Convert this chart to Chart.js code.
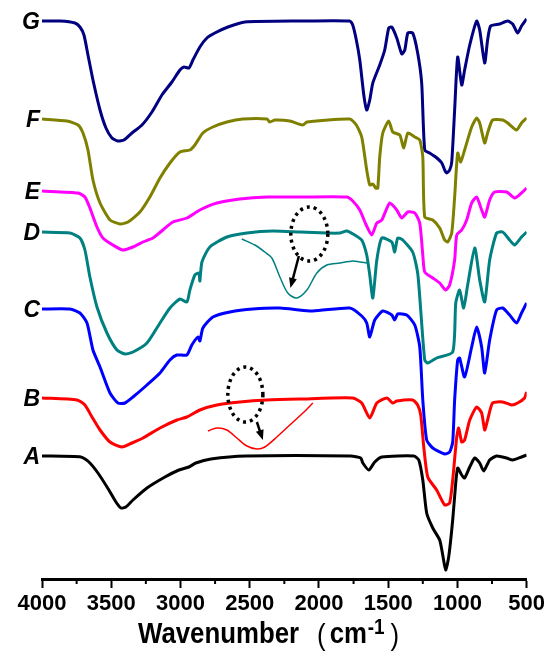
<!DOCTYPE html>
<html>
<head>
<meta charset="utf-8">
<script src="https://cdn.jsdelivr.net/npm/chart.js@4.4.0/dist/chart.umd.min.js"></script>
<style>
  body { margin: 0; background: #fff; }
  #wrap { width: 548px; height: 656px; }
</style>
</head>
<body>
<div id="wrap"><canvas id="ftir"></canvas></div>
<script>
// FTIR spectra, points are [wavenumber (cm-1), transmittance (a.u., stacked)]
const specA = [[4000,123],[3719,122],[3661,117],[3596,106],[3517,89],[3466,77],[3430,71],[3394,72],[3343,79],[3242,91],[3112,102],[3011,109],[2939,112],[2889,116],[2780,120],[2528,123],[1770,123],[1698,121],[1683,116],[1640,109],[1597,117],[1546,122],[1315,123],[1279,119],[1250,99],[1222,66],[1178,51],[1128,39],[1106,24],[1085,9],[1063,22],[1034,59],[1012,96],[998,111],[969,104],[948,101],[911,112],[875,121],[839,116],[810,108],[767,119],[717,123],[644,121],[601,119],[537,122],[500,124]];
const specB = [[4000,181],[3747,179],[3690,174],[3639,162],[3581,149],[3509,137],[3423,132],[3350,136],[3271,141],[3148,151],[3026,159],[2954,162],[2860,169],[2737,174],[2571,177],[2376,179],[2138,180],[1756,181],[1691,176],[1633,161],[1582,176],[1510,181],[1467,176],[1438,178],[1323,179],[1287,174],[1265,164],[1243,132],[1214,102],[1150,89],[1092,74],[1056,76],[1034,99],[1005,142],[991,151],[969,137],[948,139],[911,159],[861,172],[825,166],[803,149],[782,159],[746,176],[673,177],[608,174],[565,176],[515,181],[500,187]];
const specC = [[4000,270],[3798,270],[3726,266],[3675,256],[3632,229],[3581,212],[3509,186],[3452,176],[3401,176],[3343,182],[3242,194],[3148,206],[3076,219],[3026,224],[2954,224],[2918,234],[2874,242],[2860,238],[2838,251],[2766,262],[2643,267],[2477,270],[2282,271],[2044,268],[1777,271],[1691,263],[1655,256],[1633,242],[1597,259],[1539,268],[1474,264],[1453,259],[1431,265],[1366,264],[1308,254],[1272,232],[1250,179],[1222,139],[1178,131],[1092,125],[1056,127],[1034,137],[1020,179],[998,219],[984,221],[948,202],[897,232],[861,252],[825,232],[803,206],[767,239],[717,269],[673,271],[623,264],[573,256],[537,266],[500,276]];
const specD = [[4000,347],[3798,346],[3726,341],[3690,329],[3654,302],[3603,272],[3531,246],[3459,229],[3401,225],[3343,227],[3242,236],[3148,256],[3076,271],[3004,280],[2954,277],[2932,289],[2896,304],[2867,306],[2860,298],[2845,317],[2788,332],[2665,342],[2520,346],[2333,348],[2138,347],[1943,346],[1849,346],[1799,348],[1741,344],[1691,339],[1655,324],[1633,304],[1611,281],[1582,319],[1546,341],[1474,337],[1453,327],[1431,341],[1395,339],[1323,327],[1287,306],[1265,269],[1236,219],[1214,216],[1150,221],[1034,227],[1012,276],[984,289],[955,271],[926,294],[875,331],[839,299],[803,277],[767,319],[717,346],[673,347],[623,339],[587,334],[537,342],[500,347]];
const specE = [[4000,388],[3740,386],[3690,382],[3654,371],[3603,352],[3560,341],[3488,334],[3416,329],[3343,332],[3271,337],[3199,341],[3127,349],[3055,357],[2954,361],[2860,369],[2737,376],[2571,380],[2376,382],[2138,382],[1799,382],[1756,378],[1705,369],[1662,355],[1619,344],[1582,356],[1546,359],[1489,376],[1438,369],[1402,361],[1358,367],[1308,366],[1272,356],[1250,324],[1236,307],[1178,301],[1128,296],[1085,289],[1056,294],[1020,319],[1005,344],[969,349],[933,359],[897,376],[861,382],[825,369],[803,362],[767,379],[731,387],[644,387],[587,381],[537,386],[500,391]];
const specF = [[4000,460],[3820,458],[3740,454],[3704,446],[3668,429],[3632,399],[3581,376],[3509,359],[3437,355],[3379,357],[3293,367],[3221,382],[3148,401],[3076,416],[3004,427],[2932,429],[2896,434],[2838,446],[2766,452],[2665,457],[2549,460],[2376,460],[2355,457],[2318,459],[2210,458],[2116,454],[2087,457],[1777,460],[1730,454],[1691,442],[1655,409],[1633,394],[1611,395],[1590,391],[1575,391],[1561,422],[1539,446],[1496,458],[1467,447],[1416,444],[1388,431],[1358,446],[1308,442],[1272,439],[1250,422],[1236,362],[1178,359],[1128,351],[1092,339],[1070,337],[1041,346],[1020,382],[998,426],[976,417],[948,429],[897,452],[861,461],[839,456],[803,436],[782,446],[746,459],[673,459],[637,456],[573,449],[537,456],[500,461]];
const specG = [[4000,558],[3870,558],[3762,556],[3726,552],[3697,544],[3668,524],[3632,499],[3581,469],[3538,451],[3495,441],[3452,438],[3408,439],[3350,446],[3278,454],[3206,467],[3134,484],[3062,497],[3004,509],[2975,512],[2939,511],[2910,519],[2860,532],[2809,541],[2752,546],[2657,552],[2535,557],[2138,558],[1777,558],[1756,554],[1730,539],[1705,519],[1676,484],[1655,469],[1633,479],[1611,496],[1561,514],[1525,529],[1496,551],[1474,552],[1438,541],[1402,525],[1380,529],[1358,546],[1323,546],[1287,526],[1258,496],[1236,429],[1200,426],[1157,422],[1113,416],[1092,409],[1077,406],[1056,409],[1041,417],[1020,469],[998,522],[969,494],[948,509],[911,534],[861,558],[839,549],[803,516],[782,539],[760,553],[695,555],[637,558],[601,555],[565,546],[537,553],[500,560]];

// magnified insets of the marked regions
const insetD = [[2557,340],[2463,334],[2391,327],[2340,321],[2282,302],[2225,286],[2160,281],[2087,289],[2015,306],[1943,314],[1849,316],[1756,318],[1705,317],[1648,316]];
const insetB = [[2802,148],[2737,151],[2665,149],[2593,141],[2520,133],[2448,130],[2391,132],[2304,142],[2210,154],[2116,166],[2044,176]];

// dotted rings [left wn, right wn, top, bottom] and arrows [from, to]
const ringD = [2203, 1936, 372, 318];
const ringB = [2658, 2405, 212, 157];
const arrowD = [[2145, 323], [2206, 291]];
const arrowB = [[2448, 157], [2405, 139]];

const names = ['A', 'B', 'C', 'D', 'E', 'F', 'G'];
const colors = ['#000000', '#ff0000', '#0000ff', '#008080', '#ff00ff', '#808000', '#000080'];
const xTicks = [4000, 3500, 3000, 2500, 2000, 1500, 1000, 500];

const series = [specA, specB, specC, specD, specE, specF, specG];
const toXY = arr => arr.map(p => ({ x: p[0], y: p[1] }));

const datasets = series.map((s, i) => ({
  label: names[i],
  data: toXY(s),
  borderColor: colors[i],
  borderWidth: 3,
  pointRadius: 0,
  tension: 0.2
}));
datasets.push({ label: 'insetD', data: toXY(insetD), borderColor: '#008080', borderWidth: 1.5, pointRadius: 0, tension: 0.3 });
datasets.push({ label: 'insetB', data: toXY(insetB), borderColor: '#ff0000', borderWidth: 1.5, pointRadius: 0, tension: 0.3 });

const FONT = '"Liberation Sans", Arial, sans-serif';

const decor = {
  id: 'decor',
  afterDatasetsDraw(chart) {
    const ctx = chart.ctx;
    const xs = chart.scales.x, ys = chart.scales.y;
    ctx.save();

    // curve letters
    ctx.font = 'italic bold 23px ' + FONT;
    ctx.fillStyle = '#000';
    ctx.textAlign = 'right';
    ctx.textBaseline = 'middle';
    names.forEach((n, i) => {
      const p = chart.getDatasetMeta(i).data[0];
      ctx.fillText(n, p.x - 2, p.y + 2);
    });

    // dotted rings
    ctx.strokeStyle = '#000';
    ctx.lineWidth = 3.5;
    ctx.setLineDash([3, 4]);
    [ringD, ringB].forEach(r => {
      const l = xs.getPixelForValue(r[0]), rr = xs.getPixelForValue(r[1]);
      const t = ys.getPixelForValue(r[2]), b = ys.getPixelForValue(r[3]);
      ctx.beginPath();
      ctx.ellipse((l + rr) / 2, (t + b) / 2, (rr - l) / 2, (b - t) / 2, 0, 0, Math.PI * 2);
      ctx.stroke();
    });
    ctx.setLineDash([]);

    // arrows
    [arrowD, arrowB].forEach(a => {
      const x1 = xs.getPixelForValue(a[0][0]), y1 = ys.getPixelForValue(a[0][1]);
      const x2 = xs.getPixelForValue(a[1][0]), y2 = ys.getPixelForValue(a[1][1]);
      const ang = Math.atan2(y2 - y1, x2 - x1);
      ctx.lineWidth = 2.5;
      ctx.beginPath();
      ctx.moveTo(x1, y1);
      ctx.lineTo(x2 - 6 * Math.cos(ang), y2 - 6 * Math.sin(ang));
      ctx.stroke();
      ctx.beginPath();
      ctx.moveTo(x2, y2);
      ctx.lineTo(x2 - 10 * Math.cos(ang) + 4 * Math.sin(ang), y2 - 10 * Math.sin(ang) - 4 * Math.cos(ang));
      ctx.lineTo(x2 - 10 * Math.cos(ang) - 4 * Math.sin(ang), y2 - 10 * Math.sin(ang) + 4 * Math.cos(ang));
      ctx.closePath();
      ctx.fillStyle = '#000';
      ctx.fill();
    });

    // minor ticks
    const bottom = chart.chartArea.bottom;
    ctx.lineWidth = 2;
    xs.ticks.forEach(t => {
      if (xTicks.includes(t.value)) return;
      const px = xs.getPixelForValue(t.value);
      ctx.beginPath();
      ctx.moveTo(px, bottom);
      ctx.lineTo(px, bottom + 5);
      ctx.stroke();
    });

    // axis title, slightly condensed, with superscript
    const sx = 0.86;
    const base = 643;
    ctx.textAlign = 'left';
    ctx.textBaseline = 'alphabetic';
    ctx.translate(138, base);
    ctx.scale(sx, 1);
    let x = 0;
    ctx.font = 'bold 30px ' + FONT;
    ctx.fillText('Wavenumber', x, 0);
    x += ctx.measureText('Wavenumber').width + 18 / sx;
    ctx.font = '30px ' + FONT;
    ctx.fillText('(', x, 2);
    x += ctx.measureText('(').width + 4 / sx;
    ctx.font = 'bold 30px ' + FONT;
    ctx.fillText('cm', x, 0);
    x += ctx.measureText('cm').width + 1;
    ctx.font = 'bold 22px ' + FONT;
    ctx.fillText('-1', x, -9);
    x += ctx.measureText('-1').width + 6 / sx;
    ctx.font = '30px ' + FONT;
    ctx.fillText(')', x, 2);
    ctx.restore();
  }
};

new Chart(document.getElementById('ftir'), {
  type: 'line',
  data: { datasets },
  options: {
    responsive: true,
    maintainAspectRatio: false,
    animation: false,
    layout: { padding: { top: 0, left: 42, right: 21, bottom: 0 } },
    plugins: { legend: { display: false }, tooltip: { enabled: false } },
    scales: {
      x: {
        type: 'linear',
        reverse: true,
        min: 500,
        max: 4000,
        afterFit: s => { s.height = 77; },
        border: { display: true, color: '#000', width: 3 },
        grid: {
          drawOnChartArea: false,
          tickLength: 9,
          tickWidth: 2,
          tickColor: c => (xTicks.includes(c.tick.value) ? '#000' : 'rgba(0,0,0,0)')
        },
        ticks: {
          stepSize: 250,
          autoSkip: false,
          maxRotation: 0,
          padding: 3,
          color: '#000',
          font: { family: FONT, size: 22, weight: 'bold' },
          callback: v => (xTicks.includes(v) ? String(v) : '')
        }
      },
      y: { display: false, min: 0, max: 579 }
    }
  },
  plugins: [decor]
});
</script>
</body>
</html>
